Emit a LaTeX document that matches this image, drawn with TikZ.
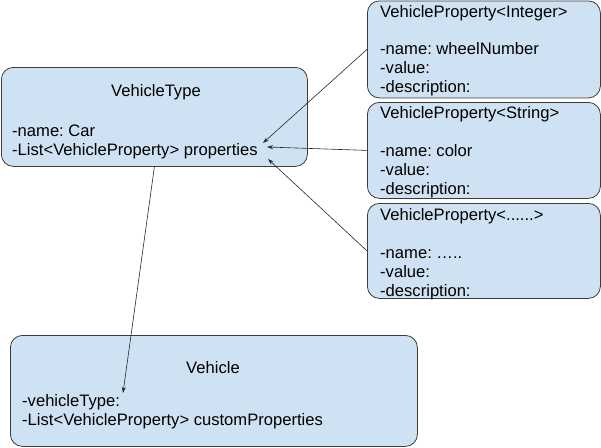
\documentclass[tikz,border=0pt]{standalone}
\usepackage{fontspec}
\setmainfont{Liberation Sans}
\usetikzlibrary{arrows.meta}
\definecolor{umlblue}{RGB}{207,226,243}
\definecolor{umlline}{RGB}{60,60,60}
\newcommand{\umlfont}{\fontsize{16.6}{18.8}\selectfont\frenchspacing}
\tikzset{
  classbox/.style={rectangle,draw=umlline,fill=umlblue,line width=0.8pt,rounded corners=12pt,anchor=north west,inner sep=0pt},
  headtext/.style={font=\umlfont,inner sep=0pt,anchor=base},
  bodytext/.style={font=\umlfont,inner sep=0pt,anchor=base west,align=left},
  umlarrow/.style={-{Stealth[length=6pt,width=4pt]},line width=0.6pt,draw=black!85}
}

\begin{document}
\begin{tikzpicture}[x=1pt,y=-1pt]
  \useasboundingbox (0,0) rectangle (601,447);
  \node[classbox,minimum width=306pt,minimum height=99pt] (vtype) at (1,67) {};
  \node[classbox,minimum width=233pt,minimum height=97pt] (propint) at (367,0.5) {};
  \node[classbox,minimum width=233pt,minimum height=96pt] (propstr) at (367,102) {};
  \node[classbox,minimum width=233pt,minimum height=95pt] (propany) at (367,203) {};
  \node[classbox,minimum width=407pt,minimum height=111pt] (vehicle) at (10,335) {};
  \node[headtext] (vtypehead) at (156,96) {VehicleType};
  \node[bodytext] (vtypebody) at (12,155) {-name: Car\\-List<VehicleProperty> properties};
  \node[bodytext] (propinthead) at (380,17) {VehicleProperty<Integer>};
  \node[bodytext] (propintbody) at (380,92) {-name: wheelNumber\\-value:\\-description:};
  \node[bodytext] (propstrhead) at (380,118) {VehicleProperty<String>};
  \node[bodytext] (propstrbody) at (380,194.5) {-name: color\\-value:\\-description:};
  \node[bodytext] (propanyhead) at (380,220) {VehicleProperty<......>};
  \node[bodytext] (propanybody) at (380,296.5) {-name: …..\\-value:\\-description:};
  \node[headtext] (vehiclehead) at (213,373) {Vehicle};
  \node[bodytext] (vehiclebody) at (22,425.5) {-vehicleType:\\-List<VehicleProperty> customProperties};
  \coordinate (slotint) at (263,143);
  \coordinate (slotstr) at (267,147);
  \coordinate (slotany) at (268,159);
  \coordinate (slottype) at (123,393);
  \draw[umlarrow] (propint.west) -- (slotint);
  \draw[umlarrow] (propstr.west) -- (slotstr);
  \draw[umlarrow] (propany.west) -- (slotany);
  \draw[umlarrow] (vtype.south) -- (slottype);
\end{tikzpicture}
\end{document}
